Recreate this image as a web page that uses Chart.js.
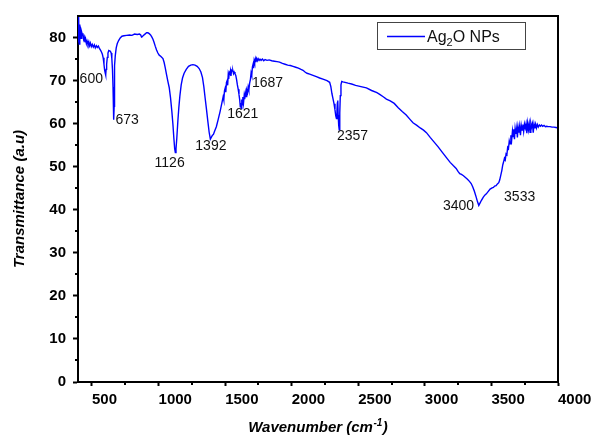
<!DOCTYPE html>
<html><head><meta charset="utf-8">
<script src="https://cdn.jsdelivr.net/npm/chart.js@4"></script>
<style>html,body{margin:0;padding:0;background:#fff;overflow:hidden}</style>
</head><body>
<canvas id="c" width="598" height="436" style="display:block;width:598px;height:436px"></canvas>
<script>
const wavenumbers = [395,398,400,402,404,407,410,414,418,423,428,432,437,442,447,452,458,463,470,476,482,488,495,502,510,518,525,533,540,548,557,565,572,578,584,590,595,600,603,606,610,615,620,626,632,638,644,649,654,658,661,663,665,666.5,668,671,675,682,690,700,712,725,740,760,782,800,820,840,857,866,872,878,886,898,910,920,930,940,950,958,966,975,985,995,1005,1018,1033,1042,1050,1060,1070,1080,1090,1100,1108,1115,1121,1126,1131,1137,1145,1152,1160,1170,1180,1192,1208,1225,1242,1258,1274,1290,1305,1318,1330,1340,1350,1360,1370,1380,1389,1396,1405,1412,1420,1434,1448,1462,1475,1485,1490,1495,1500,1505,1510,1515,1519,1523,1527,1531,1536,1540,1544,1548,1553,1558,1563,1568,1574,1580,1586,1592,1598,1604,1610,1614,1618,1621,1625,1629,1633,1638,1643,1647,1652,1657,1662,1668,1673,1678,1684,1690,1695,1700,1705,1710,1714,1718,1722,1727,1731,1736,1742,1748,1755,1762,1770,1780,1790,1800,1815,1830,1850,1870,1890,1909,1930,1950,1970,1990,2010,2030,2050,2070,2085,2100,2115,2135,2160,2185,2210,2240,2265,2285,2294,2302,2310,2318,2325,2331,2336,2340,2343,2346,2349,2353,2357,2361,2365,2370,2376,2385,2400,2423,2450,2480,2520,2561,2600,2640,2661,2690,2711,2740,2770,2800,2830,2860,2885,2911,2940,2965,2990,3012,3040,3070,3100,3130,3162,3190,3215,3235,3249,3262,3275,3290,3305,3320,3335,3348,3360,3372,3385,3395,3405,3415,3425,3438,3450,3462,3475,3490,3505,3515,3524,3535,3545,3555,3562,3570,3578,3585,3592,3598,3604,3610,3616,3622,3628,3634,3640,3646,3652,3658,3663,3668,3673,3678,3684,3690,3695,3700,3706,3712,3718,3724,3730,3736,3742,3748,3754,3760,3766,3772,3778,3784,3790,3796,3802,3808,3814,3820,3826,3832,3838,3845,3852,3860,3868,3876,3885,3895,3905,3915,3925,3940,3955,3970,3985,4000];
const transmittance = [79,85.5,80,84.5,78.5,83,80.5,81.5,79.8,81.2,80.6,81.0,79.6,80.1,78.9,79.7,78.6,79.2,78.4,79.0,78.1,78.7,77.9,78.4,77.8,78.3,77.6,78.1,77.7,78.0,77.4,77.0,76.6,76.1,75.3,73.8,72.4,71.7,71.3,72.6,73.8,75.4,76.4,77.0,76.9,76.8,76.4,75.2,72.5,68.5,64.5,61.5,60.9,64,69,73.5,75.8,77.6,78.6,79.3,79.9,80.3,80.4,80.5,80.6,80.5,80.8,80.7,80.8,80.6,80.1,80.2,80.5,80.8,81.1,81.1,80.9,80.6,80.1,79.6,78.9,78.0,77.1,76.4,75.9,75.6,75.1,74.2,73.0,71.4,69.8,68.4,66.0,62.8,59.8,56.6,54.2,53.3,54.1,56.6,60.6,63.6,66.4,69.0,70.6,71.7,72.6,73.3,73.6,73.7,73.6,73.3,72.8,72.0,70.7,68.6,65.9,63.3,60.6,58.0,56.4,56.8,57.3,57.5,58.2,59.3,61.0,62.8,64.7,66.2,65.5,67.6,68.2,67.3,69.6,70.0,68.9,71.2,70.4,71.9,71.6,72.3,71.1,72.4,72.2,72.3,71.6,72.0,71.6,71.2,70.2,69.0,68.0,66.8,65.4,63.9,64.8,63.5,65.6,64.4,66.2,64.8,66.5,65.7,67.2,66.3,67.8,67.2,68.5,67.8,69.4,70.3,71.8,71.2,73.2,73.8,72.9,74.6,74.1,75.0,74.3,75.1,74.6,75.1,74.7,75.0,74.7,75.0,74.6,74.9,74.7,74.8,74.6,74.5,74.4,74.3,74.0,73.8,73.6,73.5,73.3,73.1,72.9,72.6,72.4,72.0,71.7,71.5,71.2,70.9,70.6,70.3,70.0,69.6,68.6,67.0,65.8,64.6,63.2,61.8,61.2,63.0,64.8,65.4,62.0,59.6,58.6,62.5,66.5,69.0,69.8,69.7,69.6,69.4,69.2,68.9,68.6,68.3,67.7,67.2,66.8,66.2,65.7,65.3,64.7,63.7,62.8,62.0,61.1,60.2,59.6,59.0,58.5,57.9,56.8,55.7,54.6,53.4,52.1,51.0,50.2,49.6,48.9,48.4,48.2,47.9,47.5,47.1,46.6,46.1,45.3,44.3,43.0,41.9,41.0,41.6,42.2,42.9,43.4,43.7,44.2,44.8,45.1,45.2,45.5,45.6,46.0,46.3,46.9,48.0,49.1,50.4,51.2,52.0,51.6,53.0,52.8,54.5,54.2,56.0,55.3,57.3,56.2,58.3,57.0,58.7,56.4,58.9,57.6,59.0,56.8,59.2,57.9,59.4,57.3,59.6,58.5,59.8,58.2,59.9,59.0,60.0,57.8,60.1,58.6,60.0,58.0,60.1,59.2,60.0,57.9,59.9,58.9,59.9,59.0,59.8,59.2,59.7,59.4,59.7,59.4,59.6,59.3,59.4,59.3,59.3,59.2,59.2,59.1,59.0];
const xTickValues = [500,1000,1500,2000,2500,3000,3500,4000];
const xMinorTicks = [750,1250,1750,2250,2750,3250,3750];
const yTickValues = [0,10,20,30,40,50,60,70,80];
const yMinorTicks = [5,15,25,35,45,55,65,75];
const peakLabels = ['600','673','1126','1392','1621','1687','2357','3400','3533'];
const peakLabelX = [407,677,970,1276,1516,1701,2340,3136,3595];
const peakLabelY = [70.3,60.8,50.9,54.8,62.3,69.3,57.2,40.8,42.9];
const seriesName = 'Ag2O NPs';
const xTitle = 'Wavenumber (cm';
const xTitleSup = '-1';
const yTitle = 'Transmittance (a.u)';

const FONT = "'Liberation Sans', Arial, sans-serif";
const LINE = '#0000ff';

const extras = {
  id: 'extras',
  afterDraw(chart) {
    const ctx = chart.ctx, a = chart.chartArea;
    const xs = chart.scales.x, ys = chart.scales.y;
    ctx.save();
    // frame top & right
    ctx.strokeStyle = '#000'; ctx.lineWidth = 2;
    ctx.beginPath();
    ctx.moveTo(a.left, a.top); ctx.lineTo(a.right, a.top); ctx.lineTo(a.right, a.bottom);
    ctx.stroke();
    // minor ticks
    ctx.beginPath();
    xMinorTicks.forEach(v => { const p = Math.round(xs.getPixelForValue(v)); ctx.moveTo(p, a.bottom); ctx.lineTo(p, a.bottom + 3); });
    yMinorTicks.forEach(v => { const p = Math.round(ys.getPixelForValue(v)); ctx.moveTo(a.left, p); ctx.lineTo(a.left - 3, p); });
    ctx.stroke();
    // peak labels
    ctx.fillStyle = '#111';
    ctx.font = '14px ' + FONT;
    ctx.textAlign = 'left'; ctx.textBaseline = 'middle';
    peakLabels.forEach((t, i) => ctx.fillText(t, xs.getPixelForValue(peakLabelX[i]), ys.getPixelForValue(peakLabelY[i])));
    // x title with superscript
    ctx.fillStyle = '#000';
    ctx.textBaseline = 'alphabetic';
    const f1 = 'italic bold 15px ' + FONT, f2 = 'italic bold 10px ' + FONT;
    ctx.font = f1; const w1 = ctx.measureText(xTitle).width; const w3 = ctx.measureText(')').width;
    ctx.font = f2; const w2 = ctx.measureText(xTitleSup).width;
    let x0 = (a.left + a.right) / 2 - (w1 + w2 + w3 + 1) / 2, by = 432;
    ctx.font = f1; ctx.fillText(xTitle, x0, by);
    ctx.font = f2; ctx.fillText(xTitleSup, x0 + w1 + 0.5, by - 6);
    ctx.font = f1; ctx.fillText(')', x0 + w1 + w2 + 1, by);
    // legend
    ctx.strokeStyle = '#444'; ctx.lineWidth = 1;
    ctx.strokeRect(377.5, 22.5, 148, 27);
    ctx.strokeStyle = LINE; ctx.lineWidth = 1.3;
    ctx.beginPath(); ctx.moveTo(387, 36.5); ctx.lineTo(425, 36.5); ctx.stroke();
    ctx.fillStyle = '#111';
    const lf = '16px ' + FONT, sf = '11px ' + FONT;
    const parts = [['Ag', lf, 0], ['2', sf, 4], ['O NPs', lf, 0]];
    let lx = 427;
    parts.forEach(p => { ctx.font = p[1]; ctx.fillText(p[0], lx, 42 + p[2]); lx += ctx.measureText(p[0]).width; });
    ctx.restore();
  }
};

new Chart(document.getElementById('c'), {
  type: 'line',
  data: {
    datasets: [{
      label: seriesName,
      data: wavenumbers.map((w, i) => ({ x: w, y: transmittance[i] })),
      borderColor: LINE, borderWidth: 1.4, pointRadius: 0, tension: 0, fill: false
    }]
  },
  options: {
    responsive: false, animation: false, devicePixelRatio: 1,
    layout: { padding: { top: 15, right: 40, left: 0, bottom: 0 } },
    plugins: { legend: { display: false }, tooltip: { enabled: false } },
    scales: {
      x: {
        type: 'linear', min: 395, max: 4000,
        afterBuildTicks: s => { s.ticks = xTickValues.map(v => ({ value: v })); },
        afterFit: s => { s.height = 54; },
        ticks: { align: 'start', maxRotation: 0, autoSkip: false, color: '#000', padding: 5,
          callback: v => String(v),
          font: { family: FONT, size: 15, weight: 'bold' } },
        grid: { drawOnChartArea: false, drawTicks: true, tickLength: 4, tickColor: '#000', tickWidth: 2 },
        border: { display: true, color: '#000', width: 2 },
        title: { display: false }
      },
      y: {
        min: 0, max: 85,
        afterBuildTicks: s => { s.ticks = yTickValues.map(v => ({ value: v })); },
        afterFit: s => { s.width = 78; },
        ticks: { color: '#000', padding: 7, callback: v => String(v),
          font: { family: FONT, size: 15, weight: 'bold' } },
        grid: { drawOnChartArea: false, drawTicks: true, tickLength: 5, tickColor: '#000', tickWidth: 2 },
        border: { display: true, color: '#000', width: 2 },
        title: { display: true, text: yTitle, color: '#000', padding: { top: 11, bottom: 0 },
          font: { family: FONT, size: 15, weight: 'bold', style: 'italic' } }
      }
    }
  },
  plugins: [extras]
});
</script>
</body></html>
